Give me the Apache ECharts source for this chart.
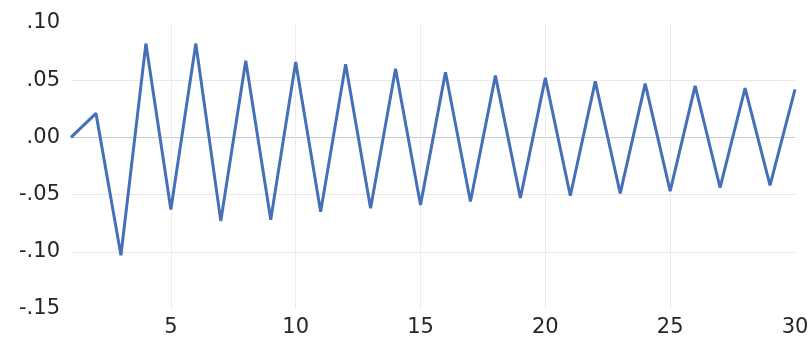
<!DOCTYPE html>
<html>
<head>
<meta charset="utf-8">
<script src="https://cdn.jsdelivr.net/npm/echarts@6/dist/echarts.min.js"></script>
<style>html,body{margin:0;padding:0;background:#fff}#c{width:812px;height:341px}</style>
</head>
<body>
<div id="c"></div>
<script>
var categories = ['1','2','3','4','5','6','7','8','9','10','11','12','13','14','15','16','17','18','19','20','21','22','23','24','25','26','27','28','29','30'];
var values = [0.000, 0.021, -0.103, 0.082, -0.063, 0.082, -0.073, 0.067, -0.072, 0.066,
              -0.065, 0.064, -0.062, 0.060, -0.059, 0.057, -0.056, 0.054, -0.053, 0.052,
              -0.051, 0.049, -0.049, 0.047, -0.047, 0.045, -0.044, 0.043, -0.042, 0.042];
var yTicks = [-0.15, -0.10, -0.05, 0.00, 0.05, 0.10];

var chart = echarts.init(document.getElementById('c'), null, {renderer: 'canvas'});
chart.setOption({
  animation: false,
  backgroundColor: '#fff',
  grid: {left: 71, right: 17, top: 23, bottom: 32, containLabel: false},
  xAxis: {
    type: 'category',
    data: categories,
    boundaryGap: false,
    axisLine: {show: false},
    axisTick: {show: false},
    axisLabel: {
      interval: function (i) { return (i + 1) % 5 === 0; },
      color: '#262626',
      fontFamily: 'DejaVu Sans',
      fontSize: 21,
      margin: 8
    },
    splitLine: {
      show: true,
      interval: function (i) { return (i + 1) % 5 === 0 && i < 29; },
      lineStyle: {color: '#ececec', width: 1}
    }
  },
  yAxis: {
    type: 'value',
    min: yTicks[0],
    max: yTicks[yTicks.length - 1],
    interval: 0.05,
    axisLine: {show: false},
    axisTick: {show: false},
    axisLabel: {
      color: '#262626',
      fontFamily: 'DejaVu Sans',
      fontSize: 21,
      margin: 11,
      formatter: function (v) {
        var s = Math.abs(v).toFixed(2).replace(/^0/, '');
        return (v < -1e-9 ? '-' : '') + s;
      }
    },
    splitLine: {
      show: true,
      lineStyle: {color: ['rgba(0,0,0,0)', '#e8e8e8', '#e8e8e8', '#c9cbd3', '#e8e8e8', 'rgba(0,0,0,0)'], width: 1}
    }
  },
  series: [{
    type: 'line',
    data: values,
    showSymbol: false,
    lineStyle: {color: '#4570B8', width: 3},
    itemStyle: {color: '#4570B8'}
  }]
});
</script>
</body>
</html>
